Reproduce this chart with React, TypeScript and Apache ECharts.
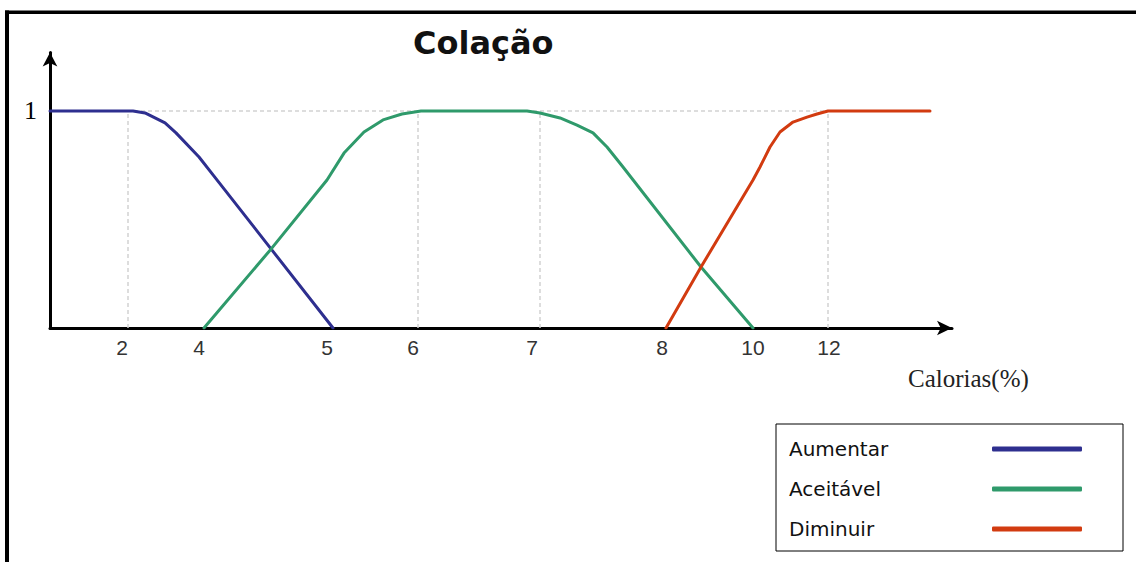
import React, { useEffect, useRef } from "react";
import * as echarts from "echarts";

// Axis positions (in axis units along the horizontal axis) of the tick labels
const tickPositions = [72, 149, 277, 363, 482, 612, 703, 779];
const tickLabels = ["2", "4", "5", "6", "7", "8", "10", "12"];
// Vertical dashed reference lines (at labels 2, 6, 7, 12)
const gridPositions = [78, 368, 490, 778];
const gridLevel = 1;
const gridLineEnd = 880;

// Membership curves
const aumentarX = [0, 83, 95, 115, 126, 149, 164, 222, 283];
const aumentarY = [1, 1, 0.991, 0.945, 0.899, 0.788, 0.7, 0.359, 0];

const aceitavelX = [154, 222, 277, 294, 314, 333, 352, 371, 477, 490, 510, 527, 543, 557, 573, 651, 703];
const aceitavelY = [0, 0.369, 0.682, 0.806, 0.903, 0.959, 0.986, 1, 1, 0.991, 0.968, 0.935, 0.899, 0.834, 0.742, 0.281, 0];

const diminuirX = [616, 651, 703, 710, 720, 730, 743, 757, 767, 778, 880];
const diminuirY = [0, 0.281, 0.682, 0.742, 0.834, 0.903, 0.949, 0.972, 0.986, 1, 1];

const seriesNames = ["Aumentar", "Aceitável", "Diminuir"];
const seriesColors = ["#2e2f8f", "#2f9a6b", "#d23b10"];

const zip = (xs: number[], ys: number[]) => xs.map((x, i) => [x, ys[i]]);

export default function App() {
  const ref = useRef<HTMLDivElement>(null);

  useEffect(() => {
    if (!ref.current) return;
    const chart = echarts.init(ref.current, null, { renderer: "svg" });

    const gridStyle = { color: "#d2d2d2", width: 1.5, type: [4, 3] as any };
    const gridSeries: any[] = gridPositions.map((p) => ({
      type: "line",
      name: "grid-v-" + p,
      data: [
        [p, 0],
        [p, gridLevel],
      ],
      symbol: "none",
      silent: true,
      lineStyle: gridStyle,
      z: 1,
    }));
    gridSeries.push({
      type: "line",
      name: "grid-h",
      data: [
        [0, gridLevel],
        [gridLineEnd, gridLevel],
      ],
      symbol: "none",
      silent: true,
      lineStyle: gridStyle,
      z: 1,
    });

    const curves = [
      zip(aumentarX, aumentarY),
      zip(aceitavelX, aceitavelY),
      zip(diminuirX, diminuirY),
    ].map((d, i) => ({
      type: "line",
      name: seriesNames[i],
      data: d,
      symbol: "none",
      color: seriesColors[i],
      lineStyle: { color: seriesColors[i], width: 3, cap: "round", join: "round" },
      z: 3,
    }));

    chart.setOption({
      animation: false,
      backgroundColor: "#fff",
      title: {
        text: "Colação",
        left: 413,
        top: 27,
        padding: 0,
        textStyle: {
          fontFamily: "DejaVu Sans",
          fontWeight: "bold",
          fontSize: 32,
          color: "#111",
        },
      },
      grid: {
        left: 50,
        right: 184,
        top: 52.4,
        bottom: 234,
        containLabel: false,
      },
      xAxis: {
        type: "value",
        min: 0,
        max: 902,
        name: "Calorias(%)",
        nameLocation: "end",
        nameGap: -44,
        nameTextStyle: {
          fontFamily: "Liberation Serif",
          fontSize: 25,
          color: "#222",
          align: "left",
          verticalAlign: "top",
          lineHeight: 100,
        },
        axisLine: {
          show: true,
          symbol: ["none", "arrow"],
          symbolSize: [11, 15],
          lineStyle: { color: "#000", width: 3 },
        },
        axisTick: { show: false },
        splitLine: { show: false },
        axisLabel: {
          customValues: tickPositions,
          margin: 9,
          fontFamily: "Liberation Sans",
          fontSize: 21,
          color: "#333",
          formatter: (v: number) => {
            const i = tickPositions.indexOf(v);
            return i >= 0 ? tickLabels[i] : "";
          },
        },
      },
      yAxis: {
        type: "value",
        min: 0,
        max: 1.27,
        axisLine: {
          show: true,
          symbol: ["none", "arrow"],
          symbolSize: [11, 14],
          lineStyle: { color: "#000", width: 3 },
        },
        axisTick: { show: false },
        splitLine: { show: false },
        axisLabel: {
          customValues: [1],
          margin: 13,
          fontFamily: "Liberation Serif",
          fontSize: 26,
          color: "#000",
        },
      },
      legend: {
        data: seriesNames,
        orient: "vertical",
        left: 776,
        top: 424,
        align: "right",
        icon: "roundRect",
        itemWidth: 90,
        itemHeight: 5,
        itemGap: 20,
        padding: [15, 41, 12, 13],
        borderColor: "#000",
        borderWidth: 1,
        selectedMode: false,
        formatter: (name: string) => `{t|${name}}`,
        textStyle: {
          fontFamily: "DejaVu Sans",
          fontSize: 20,
          color: "#111",
          rich: {
            t: {
              width: 198,
              align: "left",
              fontFamily: "DejaVu Sans",
              fontSize: 20,
              lineHeight: 20,
              color: "#111",
            },
          },
        },
      },
      graphic: [
        { type: "rect", shape: { x: 5, y: 10.5, width: 1131, height: 3.5 }, style: { fill: "#000" } },
        { type: "rect", shape: { x: 5, y: 10.5, width: 4, height: 552 }, style: { fill: "#000" } },
      ],
      series: [...gridSeries, ...curves],
    });

    return () => chart.dispose();
  }, []);

  return (
    <div
      ref={ref}
      style={{ position: "absolute", left: 0, top: 0, width: 1136, height: 562 }}
    />
  );
}
